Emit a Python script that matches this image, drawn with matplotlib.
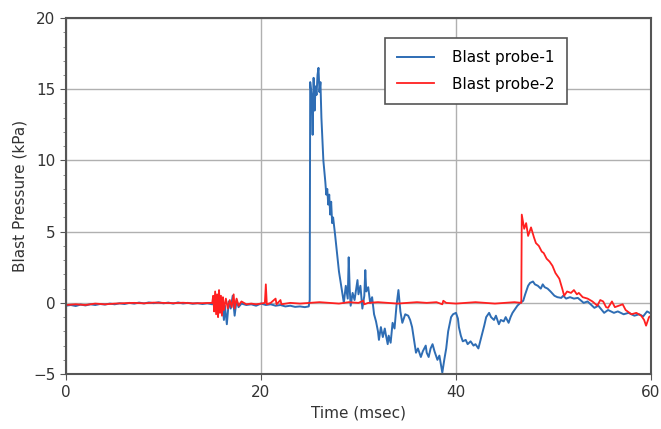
import matplotlib
matplotlib.use("Agg")
import matplotlib.pyplot as plt
from matplotlib.ticker import MultipleLocator

# probe-1 (blue)
t1 = [0.0, 0.5, 1.0, 1.5, 2.0, 2.5, 3.0, 3.5, 4.0, 4.5, 5.0, 5.5, 6.0, 6.5, 7.0, 7.5,
      8.0, 8.5, 9.0, 9.5, 10.0, 10.5, 11.0, 11.5, 12.0, 12.5, 13.0, 13.5, 14.0, 14.5,
      15.0, 15.2, 15.4, 15.6, 15.8, 16.0, 16.2, 16.3, 16.5, 16.7, 16.9, 17.1, 17.3,
      17.5, 17.7, 18.0, 18.5, 19.0, 19.5, 20.0, 20.5, 21.0, 21.5, 22.0, 22.5, 23.0,
      23.5, 24.0, 24.5, 24.9, 25.0, 25.05, 25.2, 25.3, 25.4, 25.5, 25.6, 25.7, 25.8,
      25.9, 26.0, 26.1, 26.2, 26.4, 26.6, 26.7, 26.8, 26.9, 27.0, 27.1, 27.2, 27.3,
      27.4, 27.6, 27.8, 28.0, 28.2, 28.3, 28.5, 28.7, 28.9, 29.0, 29.1, 29.2, 29.4,
      29.6, 29.9, 30.0, 30.2, 30.4, 30.6, 30.7, 30.8, 31.0, 31.2, 31.4, 31.6, 31.8,
      32.0, 32.1, 32.3, 32.5, 32.7, 32.8, 33.0, 33.1, 33.3, 33.5, 33.7, 33.9, 34.1,
      34.3, 34.5, 34.8, 35.1, 35.3, 35.5, 35.7, 35.9, 36.1, 36.4, 36.6, 36.9, 37.0,
      37.2, 37.4, 37.6, 37.8, 38.1, 38.3, 38.6, 38.8, 39.0, 39.2, 39.5, 39.7, 40.0,
      40.2, 40.3, 40.5, 40.7, 41.0, 41.2, 41.5, 41.8, 42.0, 42.3, 42.6, 42.9, 43.1,
      43.4, 43.6, 43.9, 44.1, 44.4, 44.6, 44.9, 45.1, 45.4, 45.6, 45.8, 46.0, 46.3,
      46.6, 46.9, 47.1, 47.4, 47.6, 47.9, 48.1, 48.4, 48.7, 48.9, 49.1, 49.4, 49.7,
      50.1, 50.4, 50.8, 51.0, 51.3, 51.7, 52.1, 52.5, 53.1, 53.5, 54.2, 54.6, 55.2,
      55.6, 56.2, 56.6, 57.2, 57.7, 58.3, 58.8, 59.2, 59.6, 60.0]
p1 = [-0.20, -0.15, -0.22, -0.12, -0.18, -0.10, -0.15, -0.08, -0.12, -0.05, -0.10,
      -0.03, -0.08, 0.00, -0.05, 0.02, -0.04, 0.03, -0.02, 0.04, -0.03, 0.02, -0.05,
      0.03, -0.04, 0.00, -0.06, -0.02, -0.08, -0.03, -0.10, 0.20, -0.50, 0.40, -0.60,
      0.30, -1.20, -0.20, -1.50, 0.10, -0.40, 0.50, -0.90, 0.20, -0.30, -0.05, -0.15,
      -0.10, -0.20, -0.05, -0.15, -0.10, -0.20, -0.15, -0.25, -0.20, -0.28, -0.25,
      -0.30, -0.25, 0.2, 15.5, 14.5, 11.8, 15.8, 13.5, 15.2, 14.6, 16.0, 16.5, 14.8,
      15.5, 13.0, 10.0, 8.5, 7.6, 8.0, 6.9, 7.6, 6.2, 7.1, 5.6, 6.0, 4.8, 3.5, 2.2,
      1.3, 0.8, 0.0, 1.2, 0.3, 3.2, 1.0, -0.2, 0.7, 0.2, 1.6, 0.6, 1.2, -0.4, 0.5, 2.3,
      0.8, 1.1, 0.0, 0.4, -0.8, -1.3, -2.0, -2.6, -1.7, -2.4, -1.8, -2.2, -2.9, -2.3,
      -2.8, -1.4, -1.8, -0.2, 0.9, -0.6, -1.4, -0.8, -0.9, -1.2, -1.7, -2.6, -3.5,
      -3.2, -3.8, -3.4, -3.0, -3.5, -3.8, -3.2, -2.9, -3.4, -4.0, -3.7, -4.9, -4.0,
      -3.2, -2.0, -1.0, -0.8, -0.7, -1.1, -1.7, -2.3, -2.7, -2.6, -2.9, -2.7, -3.0,
      -2.9, -3.2, -2.4, -1.6, -1.0, -0.7, -1.0, -1.2, -0.9, -1.5, -1.2, -1.3, -1.0,
      -1.4, -1.0, -0.7, -0.5, -0.2, 0.0, 0.15, 0.6, 1.2, 1.4, 1.5, 1.3, 1.2, 1.0, 1.3,
      1.1, 1.0, 0.8, 0.5, 0.4, 0.35, 0.5, 0.3, 0.4, 0.3, 0.35, 0.0, 0.1, -0.35, -0.2,
      -0.7, -0.5, -0.7, -0.6, -0.8, -0.7, -0.9, -0.8, -0.95, -0.6, -0.75]

# probe-2 (red)
t2 = [0.0, 1.0, 2.0, 3.0, 4.0, 5.0, 6.0, 7.0, 8.0, 9.0, 10.0, 11.0, 12.0, 13.0, 14.0,
      15.0, 15.1, 15.2, 15.3, 15.4, 15.5, 15.6, 15.7, 15.8, 15.9, 16.0, 16.1, 16.2,
      16.4, 16.6, 16.8, 17.0, 17.2, 17.3, 17.5, 17.7, 18.0, 18.5, 19.0, 19.5, 20.0,
      20.4, 20.5, 20.6, 21.0, 21.5, 21.6, 22.0, 22.1, 23.0, 24.0, 25.0, 26.0, 27.0,
      28.0, 29.0, 30.0, 30.5, 30.6, 31.0, 32.0, 33.0, 34.0, 35.0, 36.0, 37.0, 38.0,
      38.6, 38.7, 39.0, 40.0, 41.0, 42.0, 43.0, 44.0, 45.0, 46.0, 46.7, 46.75, 47.0,
      47.2, 47.4, 47.7, 48.0, 48.2, 48.5, 48.8, 49.0, 49.3, 49.6, 49.9, 50.2, 50.6,
      50.9, 51.1, 51.4, 51.8, 52.1, 52.4, 52.6, 53.0, 53.5, 54.0, 54.5, 54.8, 55.1,
      55.4, 55.6, 56.0, 56.3, 56.7, 57.1, 57.4, 58.0, 58.5, 59.0, 59.3, 59.5, 59.8, 60.0]
p2 = [-0.15, -0.10, -0.15, -0.05, -0.10, -0.05, -0.02, 0.00, -0.03, 0.02, 0.00, -0.02,
      0.01, -0.03, -0.02, 0.00, 0.5, -0.6, 0.8, -0.8, 0.6, -1.0, 0.9, -0.7, 0.5, -0.9,
      0.4, -0.5, 0.3, -0.4, 0.2, -0.3, 0.6, -0.4, 0.3, -0.2, 0.1, -0.1, -0.05, -0.1,
      -0.05, 0.0, 1.3, -0.1, 0.0, 0.3, -0.1, 0.2, -0.1, 0.0, -0.05, 0.0, 0.05, 0.0,
      -0.05, 0.05, 0.0, 0.15, -0.1, 0.0, 0.05, 0.0, -0.05, 0.0, 0.05, 0.0, 0.05, -0.1,
      0.15, 0.0, -0.05, 0.0, 0.05, 0.0, -0.05, 0.0, 0.05, 0.0, 6.2, 5.2, 5.6, 4.7, 5.3,
      4.6, 4.2, 4.0, 3.6, 3.5, 3.1, 2.9, 2.6, 2.1, 1.7, 1.0, 0.5, 0.8, 0.7, 0.9, 0.6,
      0.7, 0.4, 0.3, 0.1, -0.2, 0.2, 0.1, -0.3, -0.35, 0.1, -0.3, -0.2, -0.1, -0.5,
      -0.8, -0.7, -0.9, -1.2, -1.6, -1.0, -0.9]

fig = plt.figure(figsize=(6.61, 4.29), dpi=100)
ax = fig.add_axes([0.0998, 0.128, 0.885, 0.830])

ax.plot(t1, p1, color='#2e6db4', lw=1.4, label='Blast probe-1')
ax.plot(t2, p2, color='#ff2020', lw=1.3, label='Blast probe-2')

ax.set_xlim(0, 60)
ax.set_ylim(-5, 20)
ax.xaxis.set_major_locator(MultipleLocator(20))
ax.yaxis.set_major_locator(MultipleLocator(5))
ax.yaxis.set_minor_locator(MultipleLocator(1))
ax.grid(True, which='major', color='#b0b0b0', lw=1.0)
ax.tick_params(which='major', labelsize=11, length=4, color='#555555', labelcolor='#333333')
ax.tick_params(which='minor', length=2, color='#777777')
for s in ax.spines.values():
    s.set_color('#555555')
    s.set_linewidth(1.5)

ax.set_xlabel('Time (msec)', fontsize=11, color='#333333', labelpad=4)
ax.set_ylabel('Blast Pressure (kPa)', fontsize=11, color='#333333', labelpad=4)

leg = ax.legend(loc='upper left', bbox_to_anchor=(0.545, 0.944), borderaxespad=0,
                fontsize=11, fancybox=False, edgecolor='#555555', framealpha=1,
                handlelength=2.4, handletextpad=1.2, borderpad=0.8,
                labelspacing=0.75)
leg.get_frame().set_linewidth(1.2)

fig.savefig('out.png', dpi=100)
